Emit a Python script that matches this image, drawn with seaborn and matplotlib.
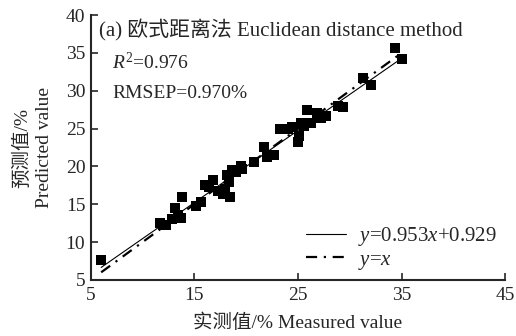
import matplotlib
matplotlib.use('Agg')
import matplotlib.pyplot as plt
import seaborn as sns
import numpy as np
import pandas as pd

# measured vs predicted (%)
measured = [6.0, 11.7, 12.0, 12.3, 12.8, 13.1, 13.4, 13.8, 13.7, 15.2, 15.6,
            16.0, 16.4, 16.8, 17.3, 17.8, 18.0, 18.1, 18.3, 18.4, 18.6, 19.0,
            19.6, 19.5, 20.8, 21.7, 22.0, 22.7, 23.3, 24.0, 24.4, 25.0, 25.1,
            25.3, 25.6, 25.9, 26.3, 26.8, 27.2, 27.7, 28.9, 29.3, 31.3, 32.0,
            34.4, 35.0]
predicted = [7.6, 12.5, 12.3, 12.2, 13.0, 14.5, 13.6, 16.0, 13.2, 14.8, 15.3,
             17.5, 17.3, 18.2, 16.8, 16.3, 17.0, 18.8, 18.0, 16.0, 19.5, 19.2,
             19.6, 20.0, 20.6, 22.6, 21.3, 21.5, 25.0, 25.0, 25.2, 23.2, 24.0,
             25.8, 25.3, 27.4, 25.8, 27.1, 26.4, 26.6, 28.0, 27.9, 31.7, 30.8,
             35.6, 34.2]
slope, intercept = 0.953, 0.929
line_x = [6.0, 35.0]
x_ticks = [5, 15, 25, 35, 45]
y_ticks = [5, 10, 15, 20, 25, 30, 35, 40]

df = pd.DataFrame({'measured': measured, 'predicted': predicted})
lines = pd.DataFrame({'x': line_x,
                      'fit': [slope * v + intercept for v in line_x],
                      'ident': line_x})

sns.set_style('ticks')
plt.rcParams['font.family'] = ['Liberation Serif', 'Noto Sans CJK SC']
plt.rcParams['mathtext.fontset'] = 'custom'
plt.rcParams['mathtext.rm'] = 'Liberation Serif'
plt.rcParams['mathtext.it'] = 'Liberation Serif:italic'

fig = plt.figure(figsize=(5.16, 3.36), dpi=100)
ax = fig.add_axes([0.176, 0.167, 0.803, 0.788])

sns.scatterplot(data=df, x='measured', y='predicted', marker='s', s=55,
                color='black', edgecolor='black', linewidth=0, ax=ax, zorder=3)
l1, = ax.plot(lines['x'], lines['fit'], color='black', lw=0.8, zorder=4)
l2, = ax.plot(lines['x'], lines['ident'], color='black', lw=1.6,
              dashes=(5, 3, 1, 3), zorder=4)

ax.set_xlim(5, 45)
ax.set_ylim(5, 40)
ax.set_xticks(x_ticks)
ax.set_yticks(y_ticks)
ax.tick_params(direction='in', length=5, width=1.2, labelsize=14)
ax.tick_params(axis='x', pad=5)
ax.tick_params(axis='y', pad=4)
sns.despine(ax=ax)
for s in ['left', 'bottom']:
    ax.spines[s].set_linewidth(1.5)

ax.set_xlabel('实测值/% Measured value', fontsize=14, labelpad=7)
ax.set_ylabel('预测值/%\nPredicted value', fontsize=14, labelpad=9,
              linespacing=1.4)

ax.text(0.02, 0.985, '(a) 欧式距离法 Euclidean distance method', fontsize=15,
        transform=ax.transAxes, va='top', ha='left')
ax.text(0.052, 0.82, '$R^2$=0.976', fontsize=14, transform=ax.transAxes,
        va='center', ha='left')
ax.text(0.052, 0.705, 'RMSEP=0.970%', fontsize=14, transform=ax.transAxes,
        va='center', ha='left')

ax.legend([l1, l2], ['$y$=0.953$x$+0.929', '$y$=$x$'], loc='lower right',
          frameon=False, fontsize=15, handlelength=1.9, handletextpad=0.6,
          labelspacing=0.1, borderaxespad=0.0, bbox_to_anchor=(1.0, 0.0))

fig.savefig('out.png', dpi=100)
